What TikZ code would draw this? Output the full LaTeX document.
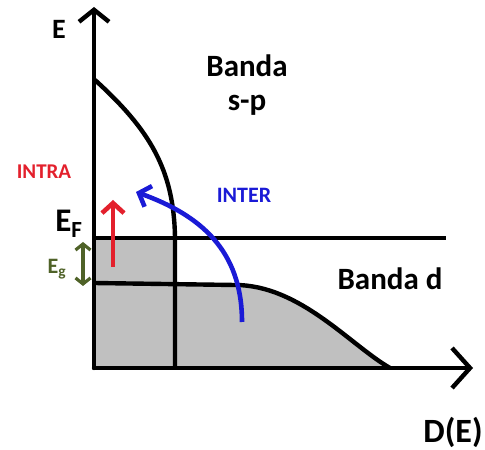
\documentclass[tikz,border=0pt]{standalone}
\usepackage{fontspec}
\setmainfont{Carlito}
\usetikzlibrary{arrows.meta}
\definecolor{intrared}{HTML}{E3202C}
\definecolor{interblue}{HTML}{1A1AD6}
\definecolor{gapgreen}{HTML}{4F6228}
\definecolor{bandgray}{HTML}{C0C0C0}

\begin{document}
\begin{tikzpicture}[x=1pt,y=1pt,
  every node/.style={inner sep=0pt},
  axis/.style={line width=4.4pt},
  lbl/.style={font=\bfseries\fontsize{31}{33}\selectfont}]
  \useasboundingbox (0,0) rectangle (485,450);
  \coordinate (O) at (94,82);
  \coordinate (Etop) at (94,443);
  \coordinate (Dend) at (473,82);
  \coordinate (F0) at (94,212);
  \coordinate (F1) at (446,212);
  \coordinate (d0) at (94,167);
  \coordinate (d1) at (235,165);
  \coordinate (d2) at (390,82);
  \coordinate (sp0) at (95,370);
  \coordinate (sp1) at (175,212);
  \coordinate (sp2) at (175,82);

  % filled states
  \fill[bandgray] (O) rectangle (sp1);
  \fill[bandgray] (sp2) -- (175,166) -- (d1)
    .. controls (300,165) and (350,105) .. (d2) -- cycle;

  % bands
  \draw[axis] (sp0) .. controls (150,320) and (174,280) .. (sp1) -- (sp2);
  \draw[axis] (d0) -- (d1) .. controls (300,165) and (350,105) .. (d2);
  \draw[axis] (F0) -- (F1);

  % axes
  \draw[axis,line cap=round,-{Straight Barb[length=12pt,width=30pt,line width=4.4pt]}] (O) -- (Etop);
  \draw[axis,line cap=round,-{Straight Barb[length=18pt,width=40pt,line width=4.4pt]}] (O) -- (Dend);

  % transitions
  \coordinate (r0) at (113,183);
  \coordinate (r1) at (113,250);
  \draw[intrared,line width=4.6pt,-{Straight Barb[length=10pt,width=22pt,line width=4.6pt]}] (r0) -- (r1);
  \coordinate (b0) at (242,128);
  \coordinate (b1) at (136,258);
  \draw[interblue,line width=4.6pt,-{Straight Barb[length=10pt,width=22pt,line width=4.6pt]}]
    (b0) .. controls (242,200) and (200,235) .. (b1);
  \coordinate (g0) at (83,164);
  \coordinate (g1) at (83,208);
  \draw[gapgreen,line width=3.2pt,{Straight Barb[length=6pt,width=15pt,line width=3.2pt]}-{Straight Barb[length=6pt,width=15pt,line width=3.2pt]}] (g0) -- (g1);

  % labels
  \node[font=\bfseries\fontsize{28}{30}\selectfont] (lE) at (59,421) {E};
  \node[font=\bfseries\fontsize{34}{36}\selectfont] (lD) at (453,18) {D(E)};
  \node[font=\bfseries\fontsize{33}{35}\selectfont] (lEF) at (69,226) {E\textsubscript{F}};
  \node[text=gapgreen,font=\bfseries\fontsize{22}{24}\selectfont] (lEg) at (57,181) {E\textsubscript{g}};
  \node[text=intrared,font=\bfseries\fontsize{21}{23}\selectfont] (lintra) at (44,278) {INTRA};
  \node[text=interblue,font=\bfseries\fontsize{22}{24}\selectfont] (linter) at (244,255) {INTER};
  \node[lbl] (lsp1) at (247,384) {Banda};
  \node[lbl] (lsp2) at (247,345) {s-p};
  \node[lbl] (ld) at (390,171) {Banda d};
\end{tikzpicture}
\end{document}
